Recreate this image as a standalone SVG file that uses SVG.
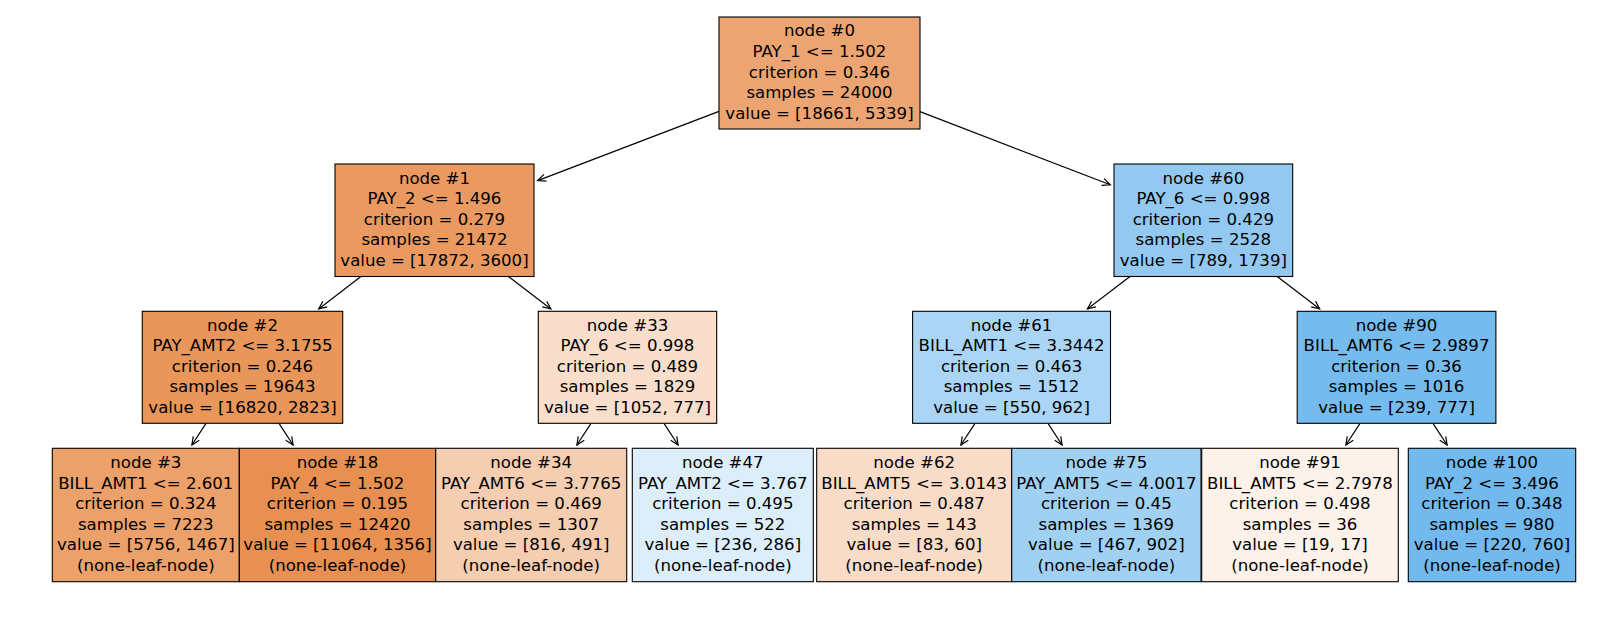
<svg xmlns="http://www.w3.org/2000/svg" width="1600" height="630" viewBox="0 0 1600 630">
<style>
.box{stroke:#000;stroke-width:1.1}
.lbl{font-family:"DejaVu Sans","Liberation Sans",sans-serif;font-size:16.6px;fill:#000;text-anchor:middle}
.edge{stroke:#000;stroke-width:1.2;fill:none;marker-end:url(#arr)}
</style>
<defs>
<marker id="arr" viewBox="-10 -6 12 12" refX="0" refY="0" markerWidth="12" markerHeight="12" markerUnits="userSpaceOnUse" orient="auto">
<path d="M-8,-3.6 L0,0 L-8,3.6" fill="none" stroke="#000" stroke-width="1.2"/>
</marker>
</defs>
<rect width="1600" height="630" fill="#fff"/>
<g id="connectors">
<line class="edge" x1="719" y1="111.4" x2="537.7" y2="180.6"/>
<line class="edge" x1="920" y1="111.6" x2="1110.3" y2="184.8"/>
<line class="edge" x1="360.9" y1="276.5" x2="318.7" y2="308.9"/>
<line class="edge" x1="508.5" y1="276.5" x2="550.9" y2="308.9"/>
<line class="edge" x1="1130" y1="276.5" x2="1087.4" y2="308.9"/>
<line class="edge" x1="1277.2" y1="276.5" x2="1319.7" y2="308.9"/>
<line class="edge" x1="206" y1="423.3" x2="191.9" y2="445"/>
<line class="edge" x1="279" y1="423.3" x2="293.1" y2="445"/>
<line class="edge" x1="591" y1="423.3" x2="576.9" y2="445"/>
<line class="edge" x1="664" y1="423.3" x2="678.1" y2="445"/>
<line class="edge" x1="975" y1="423.3" x2="960.9" y2="445"/>
<line class="edge" x1="1048" y1="423.3" x2="1062.1" y2="445"/>
<line class="edge" x1="1360" y1="423.3" x2="1345.9" y2="445"/>
<line class="edge" x1="1433" y1="423.3" x2="1447.1" y2="445"/>
</g>
<g id="node0">
<rect class="box" x="719" y="17" width="201" height="112" fill="#eca572"/>
<text class="lbl" y="36.3"><tspan x="819.5">node #0</tspan><tspan x="819.5" dy="20.6">PAY_1 &lt;= 1.502</tspan><tspan x="819.5" dy="20.6">criterion = 0.346</tspan><tspan x="819.5" dy="20.6">samples = 24000</tspan><tspan x="819.5" dy="20.6">value = [18661, 5339]</tspan></text>
</g>
<g id="node1">
<rect class="box" x="335" y="164" width="199" height="112.5" fill="#ea9a61"/>
<text class="lbl" y="183.6"><tspan x="434.5">node #1</tspan><tspan x="434.5" dy="20.6">PAY_2 &lt;= 1.496</tspan><tspan x="434.5" dy="20.6">criterion = 0.279</tspan><tspan x="434.5" dy="20.6">samples = 21472</tspan><tspan x="434.5" dy="20.6">value = [17872, 3600]</tspan></text>
</g>
<g id="node60">
<rect class="box" x="1114" y="164" width="178.7" height="112.5" fill="#93c9f1"/>
<text class="lbl" y="183.6"><tspan x="1203.35">node #60</tspan><tspan x="1203.35" dy="20.6">PAY_6 &lt;= 0.998</tspan><tspan x="1203.35" dy="20.6">criterion = 0.429</tspan><tspan x="1203.35" dy="20.6">samples = 2528</tspan><tspan x="1203.35" dy="20.6">value = [789, 1739]</tspan></text>
</g>
<g id="node2">
<rect class="box" x="142.3" y="311.3" width="200.4" height="112" fill="#e9965a"/>
<text class="lbl" y="330.6"><tspan x="242.5">node #2</tspan><tspan x="242.5" dy="20.6">PAY_AMT2 &lt;= 3.1755</tspan><tspan x="242.5" dy="20.6">criterion = 0.246</tspan><tspan x="242.5" dy="20.6">samples = 19643</tspan><tspan x="242.5" dy="20.6">value = [16820, 2823]</tspan></text>
</g>
<g id="node33">
<rect class="box" x="538.3" y="311.3" width="178.4" height="112" fill="#f8decb"/>
<text class="lbl" y="330.6"><tspan x="627.5">node #33</tspan><tspan x="627.5" dy="20.6">PAY_6 &lt;= 0.998</tspan><tspan x="627.5" dy="20.6">criterion = 0.489</tspan><tspan x="627.5" dy="20.6">samples = 1829</tspan><tspan x="627.5" dy="20.6">value = [1052, 777]</tspan></text>
</g>
<g id="node61">
<rect class="box" x="912.6" y="311.3" width="197.9" height="112" fill="#aad5f4"/>
<text class="lbl" y="330.6"><tspan x="1011.55">node #61</tspan><tspan x="1011.55" dy="20.6">BILL_AMT1 &lt;= 3.3442</tspan><tspan x="1011.55" dy="20.6">criterion = 0.463</tspan><tspan x="1011.55" dy="20.6">samples = 1512</tspan><tspan x="1011.55" dy="20.6">value = [550, 962]</tspan></text>
</g>
<g id="node90">
<rect class="box" x="1297.2" y="311.3" width="198.7" height="112" fill="#76bbed"/>
<text class="lbl" y="330.6"><tspan x="1396.55">node #90</tspan><tspan x="1396.55" dy="20.6">BILL_AMT6 &lt;= 2.9897</tspan><tspan x="1396.55" dy="20.6">criterion = 0.36</tspan><tspan x="1396.55" dy="20.6">samples = 1016</tspan><tspan x="1396.55" dy="20.6">value = [239, 777]</tspan></text>
</g>
<g id="node3">
<rect class="box" x="52.3" y="448.3" width="187" height="133.4" fill="#eca16b"/>
<text class="lbl" y="468"><tspan x="145.8">node #3</tspan><tspan x="145.8" dy="20.6">BILL_AMT1 &lt;= 2.601</tspan><tspan x="145.8" dy="20.6">criterion = 0.324</tspan><tspan x="145.8" dy="20.6">samples = 7223</tspan><tspan x="145.8" dy="20.6">value = [5756, 1467]</tspan><tspan x="145.8" dy="20.6">(none-leaf-node)</tspan></text>
</g>
<g id="node18">
<rect class="box" x="239.3" y="448.3" width="196.4" height="133.4" fill="#e89051"/>
<text class="lbl" y="468"><tspan x="337.5">node #18</tspan><tspan x="337.5" dy="20.6">PAY_4 &lt;= 1.502</tspan><tspan x="337.5" dy="20.6">criterion = 0.195</tspan><tspan x="337.5" dy="20.6">samples = 12420</tspan><tspan x="337.5" dy="20.6">value = [11064, 1356]</tspan><tspan x="337.5" dy="20.6">(none-leaf-node)</tspan></text>
</g>
<g id="node34">
<rect class="box" x="435.7" y="448.3" width="191" height="133.4" fill="#f5cdb0"/>
<text class="lbl" y="468"><tspan x="531.2">node #34</tspan><tspan x="531.2" dy="20.6">PAY_AMT6 &lt;= 3.7765</tspan><tspan x="531.2" dy="20.6">criterion = 0.469</tspan><tspan x="531.2" dy="20.6">samples = 1307</tspan><tspan x="531.2" dy="20.6">value = [816, 491]</tspan><tspan x="531.2" dy="20.6">(none-leaf-node)</tspan></text>
</g>
<g id="node47">
<rect class="box" x="632.3" y="448.3" width="181" height="133.4" fill="#dceefa"/>
<text class="lbl" y="468"><tspan x="722.8">node #47</tspan><tspan x="722.8" dy="20.6">PAY_AMT2 &lt;= 3.767</tspan><tspan x="722.8" dy="20.6">criterion = 0.495</tspan><tspan x="722.8" dy="20.6">samples = 522</tspan><tspan x="722.8" dy="20.6">value = [236, 286]</tspan><tspan x="722.8" dy="20.6">(none-leaf-node)</tspan></text>
</g>
<g id="node62">
<rect class="box" x="816.7" y="448.3" width="195" height="133.4" fill="#f8dcc8"/>
<text class="lbl" y="468"><tspan x="914.2">node #62</tspan><tspan x="914.2" dy="20.6">BILL_AMT5 &lt;= 3.0143</tspan><tspan x="914.2" dy="20.6">criterion = 0.487</tspan><tspan x="914.2" dy="20.6">samples = 143</tspan><tspan x="914.2" dy="20.6">value = [83, 60]</tspan><tspan x="914.2" dy="20.6">(none-leaf-node)</tspan></text>
</g>
<g id="node75">
<rect class="box" x="1011.7" y="448.3" width="189.3" height="133.4" fill="#a0d0f2"/>
<text class="lbl" y="468"><tspan x="1106.35">node #75</tspan><tspan x="1106.35" dy="20.6">PAY_AMT5 &lt;= 4.0017</tspan><tspan x="1106.35" dy="20.6">criterion = 0.45</tspan><tspan x="1106.35" dy="20.6">samples = 1369</tspan><tspan x="1106.35" dy="20.6">value = [467, 902]</tspan><tspan x="1106.35" dy="20.6">(none-leaf-node)</tspan></text>
</g>
<g id="node91">
<rect class="box" x="1201.7" y="448.3" width="196.6" height="133.4" fill="#fcf2ea"/>
<text class="lbl" y="468"><tspan x="1300">node #91</tspan><tspan x="1300" dy="20.6">BILL_AMT5 &lt;= 2.7978</tspan><tspan x="1300" dy="20.6">criterion = 0.498</tspan><tspan x="1300" dy="20.6">samples = 36</tspan><tspan x="1300" dy="20.6">value = [19, 17]</tspan><tspan x="1300" dy="20.6">(none-leaf-node)</tspan></text>
</g>
<g id="node100">
<rect class="box" x="1408.3" y="448.3" width="167.4" height="133.4" fill="#72b9ed"/>
<text class="lbl" y="468"><tspan x="1492">node #100</tspan><tspan x="1492" dy="20.6">PAY_2 &lt;= 3.496</tspan><tspan x="1492" dy="20.6">criterion = 0.348</tspan><tspan x="1492" dy="20.6">samples = 980</tspan><tspan x="1492" dy="20.6">value = [220, 760]</tspan><tspan x="1492" dy="20.6">(none-leaf-node)</tspan></text>
</g>
</svg>
